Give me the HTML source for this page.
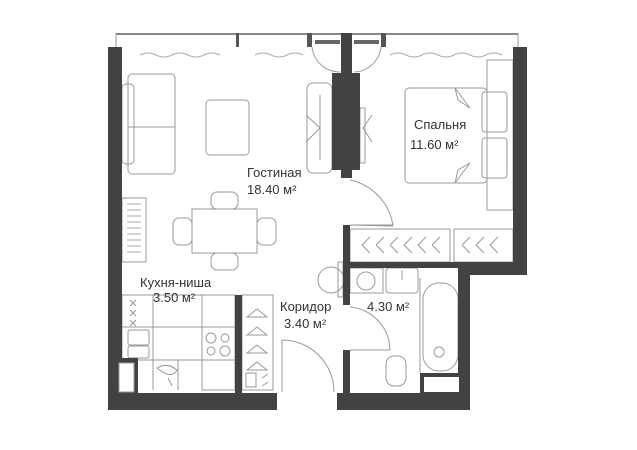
<!DOCTYPE html>
<html><head><meta charset="utf-8"><style>
html,body{margin:0;padding:0;background:#fff}
svg{display:block}
text{font-family:"Liberation Sans",sans-serif;fill:#333;font-size:13px}
</style></head><body>
<svg width="637" height="450" viewBox="0 0 637 450" xmlns="http://www.w3.org/2000/svg">
<g fill="none" stroke="#999" stroke-width="1">
<!-- window line -->
<line x1="116" y1="34" x2="518" y2="34" stroke="#888" stroke-width="2"/>
<line x1="116" y1="33" x2="116" y2="47"/><line x1="518" y1="33" x2="518" y2="47"/>
<rect x="236" y="33" width="3" height="14" fill="#555" stroke="none"/>
<rect x="307" y="33" width="5" height="14" fill="#555" stroke="none"/>
<rect x="381" y="33" width="5" height="14" fill="#555" stroke="none"/>
<rect x="315" y="40" width="25" height="4" fill="#666" stroke="none"/>
<rect x="354" y="40" width="25" height="4" fill="#666" stroke="none"/>
<path d="M312 47 A28 28 0 0 0 340 72"/><path d="M381 47 A28 28 0 0 1 354 72"/>
<!-- curtains -->
<path d="M140 55 q8 -4 16 0 t16 0 t16 0 t16 0 t16 0 M255 55 q8 -4 16 0 t16 0 t16 0 M390 55 q8 -4 16 0 t16 0 t16 0 t16 0 t16 0 t16 0 t16 0" stroke="#aaa"/>
<!-- sofa -->
<rect x="128" y="74" width="47" height="100" rx="4"/>
<rect x="122" y="84" width="12" height="80" rx="4"/>
<line x1="128" y1="127" x2="175" y2="127"/>
<rect x="206" y="100" width="43" height="55" rx="4"/>
<!-- tv unit near partition -->
<rect x="307" y="83" width="25" height="90" rx="6"/>
<line x1="320" y1="95" x2="320" y2="160"/>
<path d="M306 115 L320 128 L306 142"/>
<rect x="360" y="108" width="5" height="55"/>
<path d="M372 115 L363 128 L372 142"/>
<!-- bed -->
<rect x="487" y="60" width="26" height="150"/>
<rect x="405" y="88" width="82" height="95" rx="4"/>
<rect x="482" y="92" width="25" height="40" rx="3"/>
<rect x="482" y="138" width="25" height="40" rx="3"/>
<path d="M455 88 L458 100 L470 108 Z"/><path d="M455 183 L458 170 L470 163 Z"/>
<!-- door living -->
<path d="M350 180 A55 55 0 0 1 393 226"/>
<line x1="350" y1="225" x2="393" y2="226"/>
<!-- radiator -->
<rect x="122" y="198" width="24" height="64"/>
<g stroke="#aaa"><line x1="127" y1="204" x2="141" y2="204"/><line x1="127" y1="210" x2="141" y2="210"/><line x1="127" y1="216" x2="141" y2="216"/><line x1="127" y1="222" x2="141" y2="222"/><line x1="127" y1="228" x2="141" y2="228"/><line x1="127" y1="234" x2="141" y2="234"/><line x1="127" y1="240" x2="141" y2="240"/><line x1="127" y1="246" x2="141" y2="246"/><line x1="127" y1="252" x2="141" y2="252"/></g>
<!-- dining -->
<rect x="192" y="209" width="65" height="44"/>
<rect x="211" y="192" width="27" height="17" rx="6"/>
<rect x="211" y="253" width="27" height="17" rx="6"/>
<rect x="173" y="218" width="19" height="27" rx="6"/>
<rect x="257" y="218" width="19" height="27" rx="6"/>
<!-- wardrobe top row -->
<rect x="350" y="229" width="100" height="33"/>
<rect x="454" y="229" width="59" height="33"/>
<path d="M362 245 l8 -8 M362 245 l8 8 M376 245 l8 -8 M376 245 l8 8 M390 245 l8 -8 M390 245 l8 8 M404 245 l8 -8 M404 245 l8 8 M418 245 l8 -8 M418 245 l8 8 M432 245 l8 -8 M432 245 l8 8 M462 245 l8 -8 M462 245 l8 8 M476 245 l8 -8 M476 245 l8 8 M490 245 l8 -8 M490 245 l8 8"/>
<line x1="350" y1="225" x2="393" y2="225"/>
<!-- round table corridor -->
<circle cx="331" cy="280" r="13"/>
<rect x="338" y="262" width="5" height="35"/>
<!-- bathroom -->
<rect x="350" y="268" width="33" height="25"/>
<circle cx="366" cy="281" r="9"/>
<rect x="386" y="268" width="32" height="25" rx="3"/>
<line x1="402" y1="270" x2="402" y2="280"/>
<rect x="423" y="283" width="35" height="88" rx="16"/>
<line x1="420" y1="278" x2="420" y2="373"/>
<circle cx="439" cy="352" r="5"/>
<rect x="386" y="356" width="20" height="30" rx="8"/>
<path d="M350 307 A44 44 0 0 1 390 350"/>
<line x1="350" y1="350" x2="390" y2="350"/>
<!-- kitchen -->
<rect x="122" y="295" width="31" height="65"/>
<rect x="153" y="295" width="49" height="65"/>
<rect x="202" y="295" width="33" height="95"/>
<line x1="122" y1="327" x2="202" y2="327"/>
<line x1="202" y1="327" x2="235" y2="327"/>
<line x1="138" y1="360" x2="235" y2="360"/>
<line x1="153" y1="360" x2="153" y2="390"/>
<line x1="178" y1="360" x2="178" y2="390"/>
<rect x="128" y="330" width="21" height="15" rx="2"/>
<rect x="128" y="346" width="21" height="12" rx="2"/>
<path d="M130 300 l6 6 M136 300 l-6 6 M130 310 l6 6 M136 310 l-6 6 M130 320 l6 6 M136 320 l-6 6"/>
<circle cx="211" cy="338" r="5"/><circle cx="225" cy="338" r="4"/><circle cx="211" cy="351" r="4"/><circle cx="225" cy="351" r="5"/>
<path d="M157 368 q10 -6 20 2 q-5 10 -20 -2 M168 378 l4 8"/>
<!-- wardrobe corridor -->
<rect x="242" y="295" width="31" height="95"/>
<path d="M247 317 l10 -8 l10 8 z M247 335 l10 -8 l10 8 z M247 353 l10 -8 l10 8 z M247 370 l10 -8 l10 8 z"/>
<rect x="246" y="373" width="10" height="14"/>
<path d="M262 378 l6 -4 M262 386 l6 -4"/>
<!-- front door -->
<line x1="282" y1="340" x2="282" y2="392"/>
<path d="M282 340 A52 52 0 0 1 334 392"/>
</g>
<g fill="#424242">
<rect x="108" y="47" width="14" height="363"/>
<rect x="108" y="358" width="30" height="52"/>
<rect x="108" y="393" width="169" height="17"/>
<rect x="235" y="295" width="7" height="98"/>
<rect x="513" y="47" width="14" height="228"/>
<rect x="343" y="262" width="184" height="6"/>
<rect x="458" y="268" width="12" height="142"/>
<rect x="458" y="268" width="69" height="7"/>
<rect x="337" y="393" width="133" height="17"/>
<rect x="343" y="225" width="7" height="80"/>
<rect x="343" y="350" width="7" height="45"/>
<rect x="420" y="373" width="40" height="20"/>
<rect x="341" y="33" width="11" height="145"/>
<rect x="332" y="73" width="28" height="97"/>
</g>
<rect x="119" y="363" width="15" height="29" fill="#fff" stroke="#999"/>
<rect x="424" y="377" width="35" height="15" fill="#fff"/>
<text x="247" y="177">Гостиная</text>
<text x="247" y="194">18.40 м²</text>
<text x="414" y="129">Спальня</text>
<text x="410" y="149">11.60 м²</text>
<text x="140" y="287">Кухня-ниша</text>
<text x="153" y="302">3.50 м²</text>
<text x="280" y="311">Коридор</text>
<text x="284" y="328">3.40 м²</text>
<text x="367" y="311">4.30 м²</text>
</svg>
</body></html>
